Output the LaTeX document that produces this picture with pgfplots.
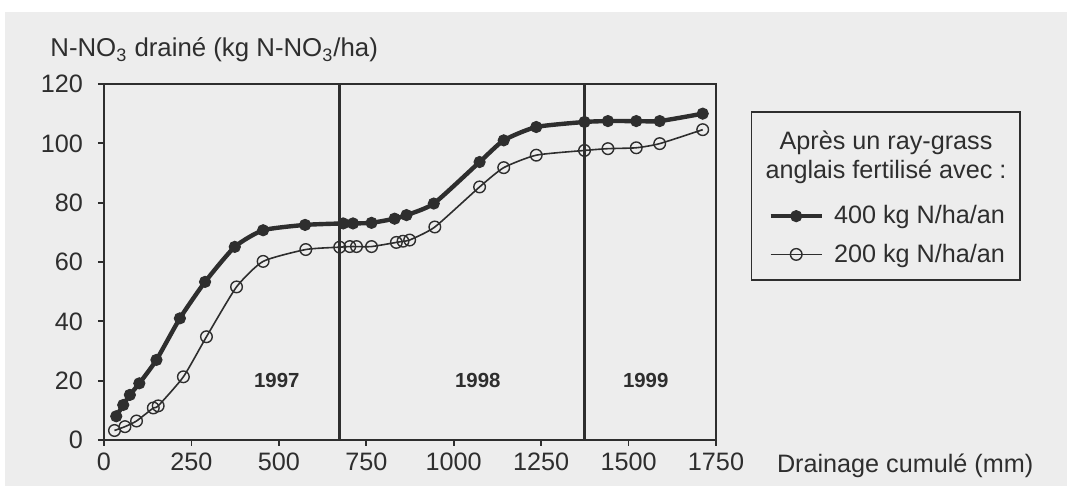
\documentclass[border=0pt]{standalone}
\usepackage{fontspec}
\setmainfont{Liberation Sans}
\usepackage{pgfplots}
\pgfplotsset{compat=1.18}
\definecolor{bg}{gray}{0.93}
\definecolor{ink}{gray}{0.18}
\newcommand{\lab}{\fontsize{12.6}{14.5}\selectfont}

\begin{document}
\begin{tikzpicture}
% page 1067x486 px at 0.5pt/px, axis lower left at px (104,440)
\path[use as bounding box] (-52pt,-23pt) rectangle (481.5pt,220pt);
\fill[bg] (-49.5pt,-23pt) rectangle (481.5pt,214pt);
\begin{axis}[
  at={(0pt,0pt)}, anchor=south west, scale only axis,
  width=306pt, height=178pt,
  xmin=0, xmax=1750, ymin=0, ymax=120,
  xtick={0,250,...,1750}, ytick={0,20,...,120},
  xtick pos=left, ytick pos=left,
  tick align=outside, major tick length=3pt,
  axis line style={ink, line width=1.3pt},
  tick style={ink, line width=0.9pt},
  ticklabel style={font=\lab, text=ink},
  yticklabel style={xshift=-4pt},
  /pgf/number format/assume math mode=true,
  /pgf/number format/set thousands separator={},
  axis background/.style={fill=bg},
  clip=false,
  legend image code/.code={\draw[mark repeat=2,mark phase=2,#1]
    plot coordinates {(0cm,0cm) (0.45cm,0cm) (0.9cm,0cm)};},
  legend style={at={(1.085,0.575)}, anchor=west, draw=none, fill=none,
    font=\lab, text=ink, inner sep=0pt, row sep=4.5pt, column sep=3pt},
  legend cell align=left,
]
% year separators
\addplot[ink, line width=1.3pt, forget plot] coordinates {(674,0) (674,120)};
\addplot[ink, line width=1.3pt, forget plot] coordinates {(1374,0) (1374,120)};

% 400 kg N/ha/an
\addplot[ink, line width=2.2pt, smooth, tension=0.35, mark=*, mark size=2.8pt,
  mark options={fill=ink, line width=0.5pt}] coordinates {
  (35,8) (55,11.8) (74,15.2) (101,19.1) (150,27) (217,41) (289,53.3)
  (374,65.1) (455,70.7) (575,72.5) (684,73) (712,73) (765,73.2)
  (831,74.6) (865,75.8) (943,79.7) (1074,93.7) (1143,101) (1236,105.5)
  (1374,107.2) (1441,107.5) (1522,107.5) (1589,107.5) (1712,110)
};
\addlegendentry{400 kg N/ha/an}

% 200 kg N/ha/an
\addplot[ink, line width=0.8pt, smooth, tension=0.35, mark=o, mark size=2.9pt,
  mark options={line width=0.7pt}] coordinates {
  (30,3.2) (60,4.5) (93,6.4) (141,10.8) (155,11.5) (227,21.3) (293,34.8)
  (379,51.6) (455,60.2) (577,64.2) (674,65) (703,65.2) (722,65.2)
  (765,65.2) (836,66.6) (855,67) (874,67.4) (946,71.8) (1074,85.3)
  (1143,91.8) (1236,96) (1374,97.6) (1441,98.2) (1522,98.5) (1589,99.9)
  (1712,104.6)
};
\addlegendentry{200 kg N/ha/an}

\node[font=\bfseries\fontsize{10.2}{12}\selectfont, text=ink] at (axis cs:494,20) {1997};
\node[font=\bfseries\fontsize{10.2}{12}\selectfont, text=ink] at (axis cs:1069,20) {1998};
\node[font=\bfseries\fontsize{10.2}{12}\selectfont, text=ink] at (axis cs:1549,20) {1999};
\end{axis}

% axis titles
\node[anchor=base west, font=\fontsize{12.9}{15}\selectfont, text=ink, inner sep=0pt] at (-27pt,191.5pt)
  {N-NO\textsubscript{3} drainé (kg N-NO\textsubscript{3}/ha)};
\node[anchor=base west, font=\lab, text=ink, inner sep=0pt] at (336.3pt,-16.5pt)
  {Drainage cumulé (mm)};

% legend frame and heading
\draw[ink, line width=0.8pt] (323.8pt,80pt) rectangle (458pt,164pt);
\node[font=\lab, text=ink, align=center, inner sep=0pt] at (391pt,141.5pt)
  {Après un ray-grass\\anglais fertilisé avec :};
\end{tikzpicture}
\end{document}
